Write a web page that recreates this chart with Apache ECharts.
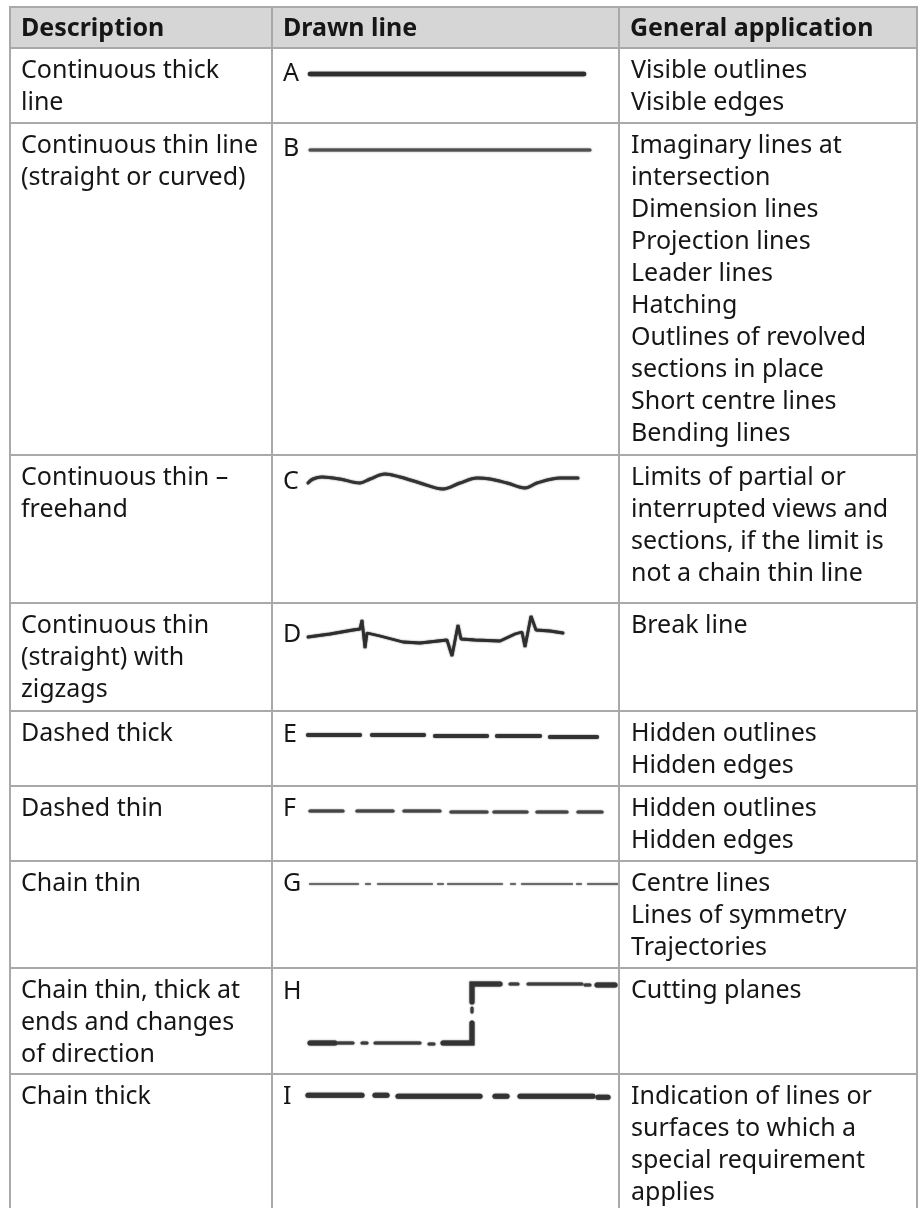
<!DOCTYPE html>
<html>
<head>
<meta charset="utf-8">
<script src="https://cdn.jsdelivr.net/npm/echarts@6/dist/echarts.min.js"></script>
<style>html,body{margin:0;padding:0;background:#fff}#chart{width:920px;height:1208px}</style>
</head>
<body>
<div id="chart"></div>
<script>
// ---------- table content ----------
const headers = ['Description', 'Drawn line', 'General application'];
const letters = ['A', 'B', 'C', 'D', 'E', 'F', 'G', 'H', 'I'];
const descriptions = [
  'Continuous thick\nline',
  'Continuous thin line\n(straight or curved)',
  'Continuous thin \u2013\nfreehand',
  'Continuous thin\n(straight) with\nzigzags',
  'Dashed thick',
  'Dashed thin',
  'Chain thin',
  'Chain thin, thick at\nends and changes\nof direction',
  'Chain thick'
];
const applications = [
  'Visible outlines\nVisible edges',
  'Imaginary lines at\nintersection\nDimension lines\nProjection lines\nLeader lines\nHatching\nOutlines of revolved\nsections in place\nShort centre lines\nBending lines',
  'Limits of partial or\ninterrupted views and\nsections, if the limit is\nnot a chain thin line',
  'Break line',
  'Hidden outlines\nHidden edges',
  'Hidden outlines\nHidden edges',
  'Centre lines\nLines of symmetry\nTrajectories',
  'Cutting planes',
  'Indication of lines or\nsurfaces to which a\nspecial requirement\napplies'
];

// ---------- drawn line samples (cell-local units) ----------
const sampleA = [[[38, 26], [312, 26]]];
const sampleB = [[[38, 27], [318, 27]]];
const sampleC = [[36, 28], [41, 24], [50, 22], [68, 24], [88, 28], [98, 24], [113, 19], [128, 22], [148, 28], [171, 34], [188, 28], [205, 23], [218, 24], [235, 28], [253, 33], [265, 28], [288, 23], [306, 23]];
const sampleD = [[36, 34], [58, 31], [81, 27], [88, 26], [90, 17], [93, 45], [95, 30], [108, 33], [131, 39], [148, 40], [175, 37], [180, 53], [186, 22], [189, 36], [203, 37], [228, 38], [243, 31], [250, 29], [253, 44], [259, 13], [264, 27], [278, 28], [291, 30]];
const sampleE = [[[36, 24], [88, 24]], [[100, 24], [152, 24]], [[163, 25], [215, 25]], [[225, 25], [268, 25]], [[278, 26], [325, 26]]];
const sampleF = [[[38, 25], [71, 25]], [[85, 25], [121, 25]], [[132, 25], [168, 25]], [[179, 26], [215, 26]], [[222, 26], [255, 26]], [[265, 26], [295, 26]], [[306, 26], [330, 26]]];
const sampleG = [[[38, 23], [86, 23]], [[94, 23], [98, 23]], [[106, 23], [160, 23]], [[166, 23], [171, 23]], [[176, 23], [230, 23]], [[239, 23], [243, 23]], [[250, 23], [300, 23]], [[305, 23], [309, 23]], [[316, 23], [346, 23]]];
const sampleHThick = [[[38, 75], [63, 75]], [[171, 75], [200, 75], [200, 55]], [[200, 34], [200, 16], [228, 16]], [[325, 17], [343, 17]]];
const sampleHThin = [[[66, 75], [81, 75]], [[90, 75], [95, 75]], [[103, 75], [148, 75]], [[157, 76], [162, 76]], [[200, 40], [200, 44]], [[238, 16], [246, 16]], [[256, 16], [310, 16]], [[313, 17], [318, 17]]];
const sampleI = [[[36, 22], [90, 22]], [[103, 22], [115, 22]], [[126, 23], [208, 23]], [[223, 23], [235, 23]], [[248, 23], [321, 23]], [[326, 24], [336, 24]]];

// ---------- layout ----------
const W = 920, H = 1208;
const colEdges = [10, 272, 619, 917];
const rowEdges = [7, 48, 123, 455, 603, 711, 786, 861, 968, 1074, 1213];
const letterDy = [26, 26, 27, 32, 24, 23, 23, 24, 23];
const FONT = '"Noto Sans", "Open Sans", sans-serif';
const FS = 25, LH = 32;
const BORDER = '#a9a9a9';
const INK = '#161616';

const chart = echarts.init(document.getElementById('chart'), null, { renderer: 'canvas' });

const graphics = [];
// header band
graphics.push({ type: 'rect', z: 0, shape: { x: colEdges[0], y: rowEdges[0], width: colEdges[3] - colEdges[0], height: rowEdges[1] - rowEdges[0] }, style: { fill: '#d6d6d6' } });
// borders
rowEdges.forEach(function (y) {
  graphics.push({ type: 'line', z: 5, shape: { x1: colEdges[0] - 1, y1: y, x2: colEdges[3] + 1, y2: y }, style: { stroke: BORDER, lineWidth: 2 } });
});
colEdges.forEach(function (x) {
  graphics.push({ type: 'line', z: 5, shape: { x1: x, y1: rowEdges[0], x2: x, y2: rowEdges[rowEdges.length - 1] }, style: { stroke: BORDER, lineWidth: 2 } });
});
// header texts
headers.forEach(function (t, i) {
  graphics.push({ type: 'text', z: 6, style: { text: t, x: colEdges[i] + 11, y: (rowEdges[0] + rowEdges[1]) / 2 + 1, fill: INK, font: 'bold ' + FS + 'px ' + FONT, verticalAlign: 'middle' } });
});
// body texts
for (let r = 0; r < 9; r++) {
  const top = rowEdges[r + 1];
  graphics.push({ type: 'text', z: 6, style: { text: descriptions[r], x: colEdges[0] + 11, y: top + 7, fill: INK, font: FS + 'px ' + FONT, lineHeight: LH, verticalAlign: 'top' } });
  graphics.push({ type: 'text', z: 6, style: { text: applications[r], x: colEdges[2] + 12, y: top + 7, fill: INK, font: FS + 'px ' + FONT, lineHeight: LH, verticalAlign: 'top' } });
  graphics.push({ type: 'text', z: 6, style: { text: letters[r], x: colEdges[1] + 11, y: top + letterDy[r], fill: INK, font: FS + 'px ' + FONT, verticalAlign: 'middle' } });
}

// one grid per drawn-line cell
const grids = [], xAxes = [], yAxes = [];
for (let r = 0; r < 9; r++) {
  const top = rowEdges[r + 1], h = rowEdges[r + 2] - rowEdges[r + 1];
  grids.push({ left: colEdges[1], top: top, width: colEdges[2] - colEdges[1], height: h, show: false });
  xAxes.push({ type: 'value', gridIndex: r, min: 0, max: colEdges[2] - colEdges[1], show: false });
  yAxes.push({ type: 'value', gridIndex: r, min: 0, max: h, inverse: true, show: false });
}

function segs(r, arr, width, color) {
  return {
    type: 'lines', coordinateSystem: 'cartesian2d', xAxisIndex: r, yAxisIndex: r, polyline: true, silent: true, z: 3,
    lineStyle: { width: width, color: color, opacity: 1, cap: 'round', join: 'miter', shadowBlur: 1.5, shadowColor: color },
    data: arr.map(function (c) { return { coords: c }; })
  };
}
function poly(r, arr, width, color, smooth) {
  return {
    type: 'line', xAxisIndex: r, yAxisIndex: r, data: arr, showSymbol: false, smooth: smooth, silent: true, z: 3,
    lineStyle: { width: width, color: color, cap: 'round', shadowBlur: 1.5, shadowColor: color }
  };
}

const series = [
  segs(0, sampleA, 4.5, '#2e2e2e'),
  segs(1, sampleB, 3, '#505050'),
  poly(2, sampleC, 3, '#333333', 0.35),
  poly(3, sampleD, 2.8, '#2e2e2e', false),
  segs(4, sampleE, 4, '#333333'),
  segs(5, sampleF, 3.2, '#444444'),
  segs(6, sampleG, 2, '#6a6a6a'),
  segs(7, sampleHThick, 5, '#333333'),
  segs(7, sampleHThin, 3, '#3c3c3c'),
  segs(8, sampleI, 5, '#333333')
];

chart.setOption({
  animation: false,
  backgroundColor: '#ffffff',
  grid: grids,
  xAxis: xAxes,
  yAxis: yAxes,
  graphic: { elements: graphics },
  series: series
});
</script>
</body>
</html>
